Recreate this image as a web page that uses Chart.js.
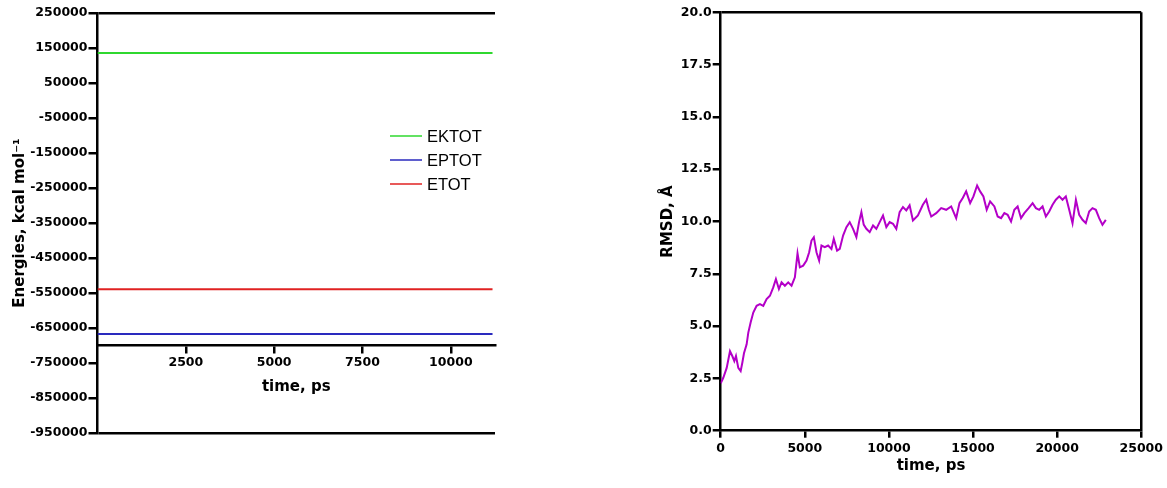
<!DOCTYPE html>
<html>
<head>
<meta charset="utf-8">
<script src="https://cdn.jsdelivr.net/npm/chart.js@4/dist/chart.umd.min.js"></script>
<style>
  html, body { margin: 0; padding: 0; background: #fff; }
  body { width: 1167px; height: 488px; position: relative; overflow: hidden; }
  .panel { position: absolute; top: 0; }
  #energyPanel { left: 0; width: 560px; height: 488px; }
  #rmsdPanel { left: 600px; width: 567px; height: 488px; }
</style>
</head>
<body>
<div class="panel" id="energyPanel"><canvas id="energyChart" width="560" height="488"></canvas></div>
<div class="panel" id="rmsdPanel"><canvas id="rmsdChart" width="567" height="488"></canvas></div>
<script>
// ---- Energies (kcal/mol) vs simulation time (ps) ----
const energyTime   = [0, 2500, 5000, 7500, 10000, 11180];
const ektotValues  = [135500, 135500, 135500, 135500, 135500, 135500];
const eptotValues  = [-667000, -667000, -667000, -667000, -667000, -667000];
const etotValues   = [-539000, -539000, -539000, -539000, -539000, -539000];
const energyLabels = ['EKTOT', 'EPTOT', 'ETOT'];
const energyXTicks = [2500, 5000, 7500, 10000];
const energyYMin = -950000, energyYMax = 250000, energyYStep = 100000;
const energyAxisAt = -700000;

// ---- Backbone RMSD (Å) vs simulation time (ps) ----
const rmsdTime = [
  0, 154, 356, 552, 690, 810, 908, 1046, 1186, 1285, 1384, 1542, 1641, 1779, 1937,
  2135, 2333, 2531, 2729, 2926, 3124, 3282, 3460, 3618, 3816, 4013, 4211, 4409, 4567,
  4705, 4903, 5101, 5259, 5397, 5536, 5694, 5852, 5990, 6188, 6386, 6583, 6722, 6919,
  7077, 7275, 7473, 7670, 7868, 8066, 8224, 8363, 8501, 8659, 8857, 9055, 9252, 9450,
  9648, 9846, 10043, 10241, 10439, 10636, 10834, 11032, 11230, 11427, 11724, 12017,
  12218, 12373, 12515, 12811, 13108, 13404, 13701, 13998, 14193, 14389, 14591, 14828,
  15024, 15243, 15421, 15617, 15813, 16014, 16269, 16465, 16667, 16862, 17058, 17260,
  17455, 17652, 17853, 18050, 18304, 18541, 18737, 18933, 19134, 19330, 19527, 19727,
  19923, 20125, 20320, 20516, 20717, 20914, 21115, 21311, 21507, 21703, 21904, 22100,
  22301, 22497, 22693, 22894
];
const rmsdValue = [
  2.27, 2.53, 3.00, 3.80, 3.57, 3.33, 3.57, 3.00, 2.85, 3.25, 3.70, 4.13, 4.69, 5.17, 5.65,
  5.97, 6.05, 5.97, 6.29, 6.45, 6.85, 7.25, 6.77, 7.09, 6.93, 7.09, 6.93, 7.33, 8.48,
  7.81, 7.89, 8.13, 8.53, 9.09, 9.25, 8.53, 8.13, 8.85, 8.77, 8.85, 8.69, 9.17, 8.61,
  8.69, 9.33, 9.73, 9.97, 9.65, 9.25, 9.97, 10.45, 9.85, 9.65, 9.49, 9.81, 9.65, 9.97,
  10.29, 9.73, 9.97, 9.89, 9.65, 10.45, 10.69, 10.53, 10.77, 10.05, 10.29, 10.80,
  11.04, 10.56, 10.24, 10.40, 10.64, 10.56, 10.72, 10.16, 10.88, 11.12, 11.44, 10.88,
  11.20, 11.72, 11.44, 11.20, 10.56, 10.96, 10.72, 10.24, 10.16, 10.40, 10.32, 10.00,
  10.56, 10.72, 10.16, 10.40, 10.64, 10.88, 10.64, 10.56, 10.72, 10.24, 10.48, 10.80,
  11.04, 11.20, 11.04, 11.20, 10.56, 9.92, 11.04, 10.32, 10.08, 9.92, 10.48, 10.64,
  10.56, 10.16, 9.84, 10.08
];
const rmsdXMin = 0, rmsdXMax = 25000, rmsdXStep = 5000;
const rmsdYMin = 0, rmsdYMax = 20, rmsdYStep = 2.5;

Chart.defaults.font.family = "'DejaVu Sans', 'Liberation Sans', sans-serif";
Chart.defaults.color = '#000';

const toPoints = (xs, ys) => xs.map((x, i) => ({ x: x, y: ys[i] }));
const tickFont = { size: 12.5, weight: 'bold' };
const titleFont = { size: 15, weight: 'bold' };
const AXIS_W = 2.5;

// Legend drawn inside the plot area of the energy panel
const insideLegend = {
  id: 'insideLegend',
  afterDatasetsDraw(chart, args, opts) {
    const ctx = chart.ctx;
    chart.data.datasets.forEach((ds, i) => {
      const y = opts.top + i * opts.spacing;
      ctx.save();
      ctx.globalAlpha = 0.75;
      ctx.strokeStyle = ds.borderColor;
      ctx.lineWidth = 2;
      ctx.beginPath();
      ctx.moveTo(opts.left, y);
      ctx.lineTo(opts.left + opts.lineLength, y);
      ctx.stroke();
      ctx.globalAlpha = 1;
      ctx.fillStyle = '#000';
      ctx.font = "16.5px 'Liberation Sans', Arial, sans-serif";
      ctx.textBaseline = 'middle';
      ctx.fillText(ds.label, opts.left + opts.lineLength + 5, y + 1);
      ctx.restore();
    });
  }
};

new Chart(document.getElementById('energyChart'), {
  type: 'line',
  data: {
    datasets: [
      { label: energyLabels[0], data: toPoints(energyTime, ektotValues), borderColor: '#2fd82f', borderWidth: 2, pointRadius: 0 },
      { label: energyLabels[1], data: toPoints(energyTime, eptotValues), borderColor: '#2a2abe', borderWidth: 2, pointRadius: 0 },
      { label: energyLabels[2], data: toPoints(energyTime, etotValues), borderColor: '#e02222', borderWidth: 2, pointRadius: 0 }
    ]
  },
  plugins: [insideLegend],
  options: {
    responsive: false,
    animation: false,
    layout: { padding: { left: 0, top: 13, right: 65, bottom: 55 } },
    plugins: {
      legend: { display: false },
      tooltip: { enabled: false },
      insideLegend: { left: 390, top: 136, spacing: 24, lineLength: 32 }
    },
    scales: {
      x: {
        type: 'linear',
        position: { y: energyAxisAt },
        min: 0,
        max: 11250,
        afterBuildTicks: s => { s.ticks = energyXTicks.map(v => ({ value: v })); },
        afterFit: s => { s.height = 55; },
        grid: { drawOnChartArea: false, color: '#000', lineWidth: AXIS_W, tickLength: 7 },
        border: { color: '#000', width: AXIS_W },
        ticks: { font: tickFont, padding: 3, maxRotation: 0, autoSkip: false, callback: v => String(v) },
        title: { display: true, text: 'time, ps', font: titleFont, padding: { top: 0, bottom: 4 } }
      },
      y: {
        type: 'linear',
        min: energyYMin,
        max: energyYMax,
        afterFit: s => { s.width = 97.5; },
        grid: {
          drawOnChartArea: true,
          color: c => (c.tick && (c.tick.value === energyYMax || c.tick.value === energyYMin)) ? '#000' : 'rgba(0,0,0,0)',
          tickColor: '#000',
          lineWidth: AXIS_W,
          tickLength: 9
        },
        border: { color: '#000', width: AXIS_W },
        ticks: { stepSize: energyYStep, font: tickFont, padding: 1, callback: v => String(v) },
        title: { display: true, text: 'Energies, kcal mol\u207B\u00B9', font: titleFont, padding: { top: 11, bottom: 0 } }
      }
    }
  }
});

new Chart(document.getElementById('rmsdChart'), {
  type: 'line',
  data: {
    datasets: [
      { label: 'RMSD', data: toPoints(rmsdTime, rmsdValue), borderColor: '#b400c8', borderWidth: 2, pointRadius: 0, tension: 0 }
    ]
  },
  options: {
    responsive: false,
    animation: false,
    layout: { padding: { left: 0, top: 12.3, right: 25.3, bottom: 0 } },
    plugins: { legend: { display: false }, tooltip: { enabled: false } },
    scales: {
      x: {
        type: 'linear',
        position: 'bottom',
        min: rmsdXMin,
        max: rmsdXMax,
        afterFit: s => { s.height = 57.3; },
        grid: {
          drawOnChartArea: true,
          color: c => (c.tick && c.tick.value === rmsdXMax) ? '#000' : 'rgba(0,0,0,0)',
          tickColor: '#000',
          lineWidth: AXIS_W,
          tickLength: 7
        },
        border: { color: '#000', width: AXIS_W },
        ticks: { stepSize: rmsdXStep, font: tickFont, padding: 4, maxRotation: 0, autoSkip: false, callback: v => String(v) },
        title: { display: true, text: 'time, ps', font: titleFont, padding: { top: 0, bottom: 13 } }
      },
      y: {
        type: 'linear',
        min: rmsdYMin,
        max: rmsdYMax,
        afterFit: s => { s.width = 120.7; },
        grid: {
          drawOnChartArea: true,
          color: c => (c.tick && c.tick.value === rmsdYMax) ? '#000' : 'rgba(0,0,0,0)',
          tickColor: '#000',
          lineWidth: AXIS_W,
          tickLength: 8
        },
        border: { color: '#000', width: AXIS_W },
        ticks: { stepSize: rmsdYStep, font: tickFont, padding: 1, callback: v => Number(v).toFixed(1) },
        title: { display: true, text: 'RMSD, \u00C5', font: titleFont, padding: { top: 59, bottom: 0 } }
      }
    }
  }
});
</script>
</body>
</html>
